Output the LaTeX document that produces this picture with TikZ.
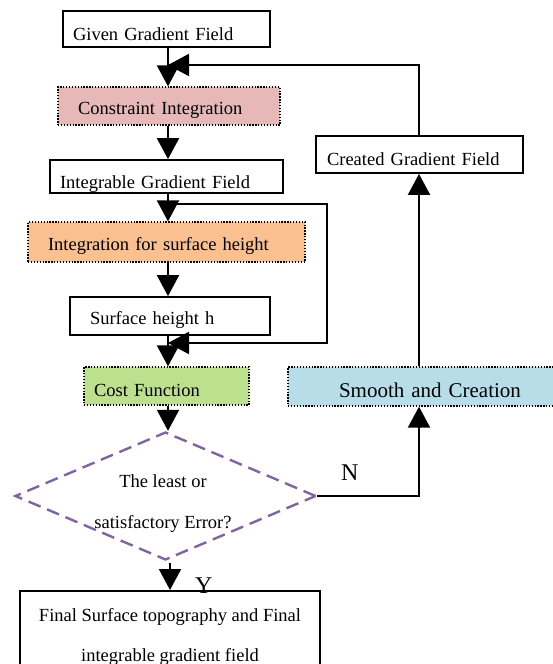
\documentclass[tikz,border=0pt]{standalone}
\usepackage{fontspec}
\setmainfont{Liberation Serif}
\usetikzlibrary{arrows.meta,shapes.geometric}
\definecolor{cpink}{HTML}{E6B9B8}
\definecolor{corange}{HTML}{FAC08F}
\definecolor{cgreen}{HTML}{BDE08F}
\definecolor{cblue}{HTML}{B7DDE8}
\definecolor{cpurple}{HTML}{8064A2}
\begin{document}
\begin{tikzpicture}[x=1pt,y=-1pt,
  txt/.style={font=\fontsize{18.5}{22}\selectfont},
  solidbox/.style={draw, line width=1.8pt, rectangle, inner sep=0pt, txt},
  dotbox/.style={draw, line width=1.3pt, dash pattern=on 1.3pt off 1.6pt, rectangle, inner sep=0pt, txt, fill=#1},
  geom/.style n args={4}{minimum width=#1, text width=#1, minimum height=#2, align=left,
     text height=#4, text depth=0pt, execute at begin node={\hspace*{#3}}},
  arr/.style={line width=2pt, -{Triangle[length=21pt,width=22pt]}},
  decision/.style={draw=cpurple, line width=2.4pt, dash pattern=on 13pt off 7pt, diamond,
     minimum width=301pt, minimum height=128pt, inner sep=0pt},
  dtext/.style={font=\fontsize{18.5}{41}\selectfont, align=center, inner sep=0pt},
  yn/.style={font=\fontsize{24}{28}\selectfont, inner sep=0pt, anchor=base west}]
\useasboundingbox (0,0) rectangle (553,664);
\coordinate (col) at (168,0);
\coordinate (col2) at (419,0);
% nodes
\node[solidbox, geom={207pt}{36pt}{10pt}{22pt}] (given) at (166.5,29) {Given Gradient Field};
\node[dotbox=cpink, geom={222pt}{38pt}{20pt}{16pt}] (cons) at (169,106) {Constraint Integration};
\node[solidbox, geom={233pt}{33pt}{10pt}{23pt}] (integ) at (166.5,176.5) {Integrable Gradient Field};
\node[dotbox=corange, geom={277pt}{40pt}{20pt}{16pt}] (ihs) at (166.5,242) {Integration for surface height};
\node[solidbox, geom={200pt}{38pt}{20pt}{16pt}] (surf) at (170,316) {Surface height h};
\node[dotbox=cgreen, geom={165pt}{38pt}{10pt}{20pt}] (cost) at (166.5,386) {Cost Function};
\node[dotbox=cblue, geom={280pt}{39pt}{51pt}{21pt}, font=\fontsize{21}{25}\selectfont] (smooth) at (428,386.5) {Smooth and Creation};
\node[solidbox, geom={207pt}{37pt}{11pt}{21pt}] (created) at (419.5,154.5) {Created Gradient Field};
\node[decision] (dia) at (165.5,496) {};
\node[dtext] (diatext) at (163,503.2) {The least or\\satisfactory Error?};
\node[solidbox, minimum width=300pt, minimum height=91.5pt, anchor=north, align=center,
      font=\fontsize{18.5}{40}\selectfont] (final) at (170,590) {Final Surface topography and Final\\integrable gradient field};
\node[yn] (nlab) at (341,480) {N};
\node[yn] (ylab) at (195,593) {Y};
% connectors
\draw[arr] (given.south -| col) -- (cons.north -| col);
\draw[arr] (cons.south -| col) -- (integ.north -| col);
\draw[arr] (integ.south -| col) -- (ihs.north -| col);
\draw[arr] (ihs.south -| col) -- (surf.north -| col);
\draw[arr] (surf.south -| col) -- (cost.north -| col);
\draw[arr] (cost.south -| col) -- (dia.north -| col);
\coordinate (ys) at (170,563);
\draw[arr] (ys) -- (ys |- final.north);
\coordinate (fb1) at (168,65);
\draw[arr] (col2 |- created.north) |- (fb1);
\coordinate (fb2s) at (168,204);
\coordinate (fb2e) at (168,343);
\draw[arr] (fb2s) -- (327,204) |- (fb2e);
\draw[arr] (dia.east) -| (col2 |- smooth.south);
\draw[arr] (col2 |- smooth.north) -- (col2 |- created.south);
\end{tikzpicture}
\end{document}
